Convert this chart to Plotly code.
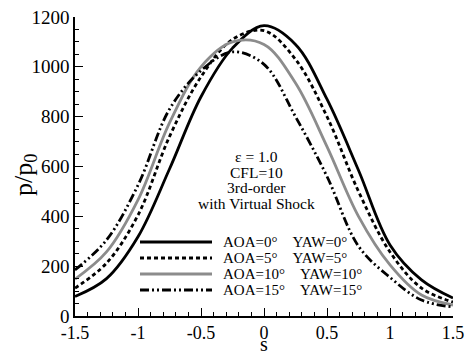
import plotly.graph_objects as go

# ---- data ----
s_vals = [-1.5, -1.25, -1.0, -0.75, -0.5, -0.25, 0.0, 0.25, 0.5, 0.75, 1.0, 1.25, 1.5]
p_aoa0 = [78, 150, 318, 590, 880, 1075, 1165, 1090, 870, 585, 285, 145, 72]
p_aoa5 = [112, 212, 405, 720, 960, 1110, 1145, 1030, 800, 500, 257, 112, 56]
p_aoa10 = [148, 257, 466, 775, 1000, 1100, 1090, 935, 680, 400, 205, 84, 44]
p_aoa15 = [185, 305, 525, 830, 985, 1060, 1010, 800, 560, 280, 155, 64, 36]

series_names = ["AOA=0°    YAW=0°", "AOA=5°    YAW=5°", "AOA=10°    YAW=10°", "AOA=15°    YAW=15°"]
series_data = [p_aoa0, p_aoa5, p_aoa10, p_aoa15]
series_colors = ["#000000", "#000000", "#8c8c8c", "#000000"]
series_dash = ["solid", "4px,3px", "solid", "9px,3px,2px,3px,2px,3px"]

x_ticks = [-1.5, -1, -0.5, 0, 0.5, 1, 1.5]
x_ticktext = ["-1.5", "-1", "-0.5", "0", "0.5", "1", "1.5"]
y_ticks = [0, 200, 400, 600, 800, 1000, 1200]

x_title = "s"
y_title = "p/p<sub>0</sub>"
note_lines = ["ε = 1.0", "CFL=10", "3rd-order", "with Virtual Shock"]

SERIF = "Liberation Serif, Times New Roman, serif"
W, H = 466, 356
ML, MR, MT, MB = 75, 13, 17, 40
PW, PH = W - ML - MR, H - MT - MB


def px_to_paper(xp, yp):
    return (xp - ML) / PW, (H - MB - yp) / PH


fig = go.Figure()
for name, ys, col, dash in zip(series_names, series_data, series_colors, series_dash):
    fig.add_trace(go.Scatter(
        x=s_vals, y=ys, mode="lines", name=name, showlegend=False,
        line=dict(color=col, width=2.8, dash=dash, shape="spline", smoothing=1.0),
    ))

# notes block
note_rows_px = [156.5, 172, 187.5, 203]
for txt, yp in zip(note_lines, note_rows_px):
    xp_, yp_ = px_to_paper(256, yp)
    fig.add_annotation(
        x=xp_, y=yp_, xref="paper", yref="paper", text=txt, showarrow=False,
        font=dict(family=SERIF, size=15.5, color="black"),
        xanchor="center", yanchor="middle",
    )

# legend (samples + labels)
legend_rows_px = [242, 258, 274, 290]
for name, col, dash, yp in zip(series_names, series_colors, series_dash, legend_rows_px):
    x0, yy = px_to_paper(140, yp)
    x1, _ = px_to_paper(212, yp)
    fig.add_shape(type="line", xref="paper", yref="paper", x0=x0, x1=x1, y0=yy, y1=yy,
                  line=dict(color=col, width=2.8, dash=dash))
    xt, _ = px_to_paper(221, yp)
    fig.add_annotation(
        x=xt, y=yy, xref="paper", yref="paper", text=name.replace(" ", "\u00a0"),
        showarrow=False, font=dict(family=SERIF, size=15, color="black"),
        xanchor="left", yanchor="middle",
    )

# axis titles
xtx, xty = px_to_paper(264, 344)
fig.add_annotation(x=xtx, y=xty, xref="paper", yref="paper", text=x_title, showarrow=False,
                   font=dict(family=SERIF, size=20, color="black"),
                   xanchor="center", yanchor="middle")
ytx, yty = px_to_paper(25, 175)
fig.add_annotation(x=ytx, y=yty, xref="paper", yref="paper", text=y_title, showarrow=False,
                   textangle=-90, font=dict(family=SERIF, size=26, color="black"),
                   xanchor="center", yanchor="middle")

fig.update_layout(
    width=W, height=H,
    margin=dict(l=ML, r=MR, t=MT, b=MB),
    paper_bgcolor="white", plot_bgcolor="white",
    showlegend=False,
    font=dict(family=SERIF, color="black"),
)

fig.update_xaxes(
    range=[-1.5, 1.5], tickvals=x_ticks, ticktext=x_ticktext, automargin=False,
    showline=True, linecolor="black", linewidth=1.5, showgrid=False, zeroline=False,
    ticks="inside", ticklen=8, tickwidth=1.2, tickcolor="black",
    tickfont=dict(family=SERIF, size=18, color="black"),
    minor=dict(dtick=0.1, ticks="inside", ticklen=4, tickwidth=1, tickcolor="black"),
)
fig.update_yaxes(
    range=[0, 1200], tickvals=y_ticks, automargin=False,
    showline=True, linecolor="black", linewidth=1.5, showgrid=False, zeroline=False,
    ticks="inside", ticklen=8, tickwidth=1.2, tickcolor="black",
    tickfont=dict(family=SERIF, size=19, color="black"),
    minor=dict(dtick=50, ticks="inside", ticklen=4, tickwidth=1, tickcolor="black"),
)

fig.write_html("out.html")
